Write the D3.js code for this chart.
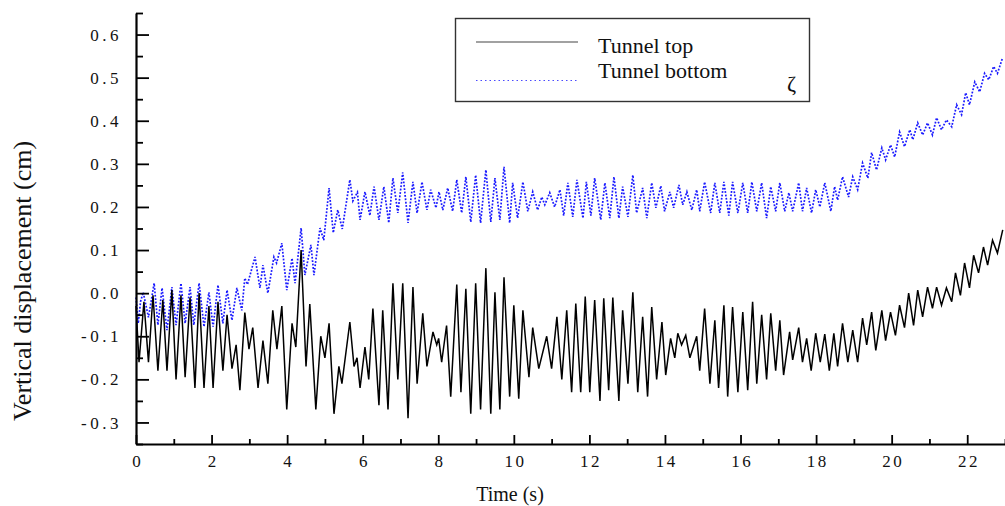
<!DOCTYPE html>
<html>
<head>
<meta charset="utf-8">
<script src="https://cdn.jsdelivr.net/npm/d3@7"></script>
<style>
  html, body { margin: 0; padding: 0; background: #fff; }
  svg { display: block; font-family: "Liberation Serif", "Times New Roman", serif; }
</style>
</head>
<body>
<svg id="chart" width="1005" height="506"></svg>
<script>
// Axis tick values
const timeTicks = [0, 2, 4, 6, 8, 10, 12, 14, 16, 18, 20, 22];
const timeMinorTicks = [1, 3, 5, 7, 9, 11, 13, 15, 17, 19, 21, 23];
const dispTicks = [-0.3, -0.2, -0.1, 0.0, 0.1, 0.2, 0.3, 0.4, 0.5, 0.6];
const dispMinorTicks = [-0.35, -0.25, -0.15, -0.05, 0.05, 0.15, 0.25, 0.35, 0.45, 0.55, 0.65];

const seriesNames = ["Tunnel top", "Tunnel bottom"];

// Vertical displacement of the tunnel top, [time (s), displacement (cm)]
const tunnelTop = [
  [0.00,-0.03],[0.08,-0.16],[0.21,-0.02],[0.33,-0.16],[0.45,-0.005],[0.58,-0.18],[0.71,-0.016],[0.82,-0.18],
  [0.95,0.007],[1.06,-0.20],[1.19,-0.005],[1.30,-0.195],[1.43,-0.01],[1.56,-0.22],[1.67,0.0],[1.80,-0.22],
  [1.93,-0.03],[2.04,-0.22],[2.17,-0.02],[2.30,-0.18],[2.41,-0.05],[2.54,-0.175],[2.65,-0.12],[2.75,-0.225],
  [2.88,-0.045],[2.99,-0.13],[3.09,-0.08],[3.23,-0.22],[3.36,-0.11],[3.49,-0.21],[3.62,-0.04],[3.73,-0.13],
  [3.86,-0.03],[3.99,-0.27],[4.13,-0.07],[4.23,-0.125],[4.37,0.10],[4.50,-0.17],[4.60,-0.025],[4.76,-0.27],
  [4.89,-0.10],[5.00,-0.15],[5.11,-0.07],[5.24,-0.28],[5.37,-0.17],[5.45,-0.21],[5.66,-0.067],[5.77,-0.17],
  [5.85,-0.15],[5.93,-0.22],[6.06,-0.125],[6.16,-0.20],[6.27,-0.036],[6.43,-0.26],[6.53,-0.04],[6.67,-0.27],
  [6.80,0.023],[6.93,-0.20],[7.06,0.023],[7.20,-0.29],[7.33,0.014],[7.44,-0.21],[7.59,-0.047],[7.70,-0.17],
  [7.86,-0.09],[7.96,-0.12],[8.01,-0.105],[8.09,-0.16],[8.22,-0.075],[8.33,-0.24],[8.49,0.02],[8.60,-0.23],
  [8.73,0.01],[8.86,-0.28],[8.99,0.023],[9.12,-0.27],[9.26,0.058],[9.39,-0.28],[9.50,0.002],[9.63,-0.27],
  [9.74,0.037],[9.89,-0.24],[10.00,-0.028],[10.13,-0.245],[10.24,-0.04],[10.40,-0.195],[10.50,-0.08],[10.66,-0.175],
  [10.87,-0.10],[11.00,-0.175],[11.14,-0.055],[11.27,-0.20],[11.40,-0.04],[11.53,-0.23],[11.64,-0.024],[11.77,-0.23],
  [11.89,-0.008],[12.01,-0.23],[12.14,-0.016],[12.28,-0.25],[12.38,-0.012],[12.51,-0.225],[12.62,-0.01],[12.78,-0.25],
  [12.88,-0.04],[13.02,-0.21],[13.15,0.002],[13.28,-0.23],[13.41,-0.055],[13.54,-0.24],[13.65,-0.032],[13.78,-0.20],
  [13.92,-0.067],[14.02,-0.19],[14.15,-0.105],[14.26,-0.15],[14.34,-0.093],[14.44,-0.12],[14.55,-0.098],[14.66,-0.15],
  [14.84,-0.10],[14.92,-0.18],[15.05,-0.036],[15.19,-0.21],[15.32,-0.063],[15.42,-0.22],[15.56,-0.028],[15.66,-0.24],
  [15.79,-0.032],[15.93,-0.23],[16.06,-0.044],[16.19,-0.225],[16.32,-0.02],[16.43,-0.21],[16.56,-0.05],[16.69,-0.20],
  [16.80,-0.047],[16.93,-0.18],[17.04,-0.063],[17.14,-0.19],[17.30,-0.09],[17.38,-0.155],[17.54,-0.08],[17.64,-0.16],
  [17.75,-0.105],[17.87,-0.18],[17.99,-0.093],[18.11,-0.16],[18.23,-0.095],[18.35,-0.18],[18.47,-0.093],[18.57,-0.17],
  [18.70,-0.07],[18.84,-0.16],[18.97,-0.086],[19.10,-0.16],[19.23,-0.058],[19.34,-0.12],[19.47,-0.044],[19.58,-0.133],
  [19.74,-0.04],[19.84,-0.11],[19.97,-0.044],[20.10,-0.098],[20.21,-0.028],[20.34,-0.08],[20.45,0.0],[20.58,-0.075],
  [20.69,0.007],[20.82,-0.055],[20.95,0.014],[21.08,-0.035],[21.19,0.014],[21.32,-0.028],[21.45,0.012],[21.59,-0.02],
  [21.69,0.047],[21.82,-0.005],[21.93,0.07],[22.06,0.012],[22.17,0.088],[22.30,0.047],[22.43,0.107],[22.54,0.065],
  [22.67,0.123],[22.80,0.093],[22.94,0.147]
];

// Vertical displacement of the tunnel bottom, [time (s), displacement (cm)]
const tunnelBottom = [
  [0.00,-0.01],[0.06,-0.07],[0.12,-0.02],[0.19,0.002],[0.33,-0.056],[0.48,0.023],[0.58,-0.074],[0.69,0.012],
  [0.82,-0.086],[0.95,0.014],[1.06,-0.074],[1.19,0.023],[1.30,-0.07],[1.43,0.014],[1.53,-0.074],[1.67,0.023],
  [1.80,-0.078],[1.93,0.002],[2.04,-0.078],[2.17,0.019],[2.30,-0.07],[2.41,0.007],[2.54,-0.063],[2.67,0.012],
  [2.80,-0.04],[2.88,0.035],[2.95,0.02],[3.15,0.084],[3.28,0.012],[3.36,0.065],[3.49,0.0],[3.65,0.084],
  [3.72,0.07],[3.86,0.116],[3.99,0.007],[4.13,0.081],[4.21,0.023],[4.37,0.151],[4.47,0.042],[4.63,0.112],
  [4.71,0.042],[4.87,0.151],[4.97,0.123],[5.11,0.244],[5.22,0.14],[5.34,0.193],[5.46,0.149],[5.66,0.263],
  [5.74,0.214],[5.86,0.234],[5.93,0.17],[6.06,0.235],[6.19,0.18],[6.30,0.247],[6.43,0.17],[6.56,0.247],
  [6.69,0.163],[6.80,0.267],[6.93,0.186],[7.06,0.28],[7.20,0.163],[7.33,0.258],[7.44,0.186],[7.57,0.258],
  [7.70,0.193],[7.80,0.24],[7.94,0.198],[8.02,0.235],[8.12,0.193],[8.25,0.244],[8.38,0.19],[8.49,0.263],
  [8.62,0.186],[8.73,0.27],[8.86,0.165],[8.99,0.274],[9.12,0.163],[9.26,0.286],[9.39,0.165],[9.50,0.267],
  [9.63,0.17],[9.74,0.293],[9.89,0.163],[9.97,0.256],[10.10,0.174],[10.24,0.258],[10.37,0.19],[10.50,0.235],
  [10.63,0.193],[10.74,0.223],[10.82,0.205],[10.95,0.233],[11.08,0.20],[11.22,0.24],[11.32,0.18],[11.43,0.256],
  [11.56,0.177],[11.67,0.263],[11.83,0.174],[11.92,0.258],[12.04,0.18],[12.14,0.267],[12.30,0.17],[12.41,0.256],
  [12.54,0.174],[12.65,0.27],[12.78,0.174],[12.88,0.247],[13.02,0.177],[13.15,0.274],[13.25,0.186],[13.41,0.244],
  [13.52,0.174],[13.65,0.256],[13.76,0.198],[13.89,0.249],[13.99,0.19],[14.13,0.235],[14.23,0.198],[14.37,0.251],
  [14.47,0.205],[14.58,0.235],[14.71,0.193],[14.84,0.24],[14.92,0.19],[15.05,0.258],[15.21,0.186],[15.32,0.256],
  [15.45,0.186],[15.56,0.258],[15.69,0.18],[15.79,0.258],[15.93,0.186],[16.06,0.256],[16.19,0.186],[16.30,0.258],
  [16.43,0.19],[16.56,0.256],[16.69,0.174],[16.80,0.247],[16.93,0.19],[17.04,0.256],[17.17,0.19],[17.28,0.233],
  [17.38,0.19],[17.54,0.256],[17.64,0.19],[17.75,0.244],[17.88,0.186],[17.99,0.24],[18.10,0.20],[18.23,0.256],
  [18.39,0.19],[18.49,0.247],[18.57,0.216],[18.70,0.27],[18.86,0.223],[18.97,0.27],[19.10,0.24],[19.23,0.302],
  [19.37,0.267],[19.47,0.326],[19.60,0.286],[19.74,0.337],[19.84,0.309],[19.97,0.344],[20.08,0.316],[20.21,0.374],
  [20.34,0.34],[20.48,0.379],[20.56,0.356],[20.69,0.395],[20.82,0.367],[20.95,0.395],[21.08,0.367],[21.19,0.407],
  [21.32,0.379],[21.45,0.402],[21.59,0.386],[21.72,0.437],[21.85,0.414],[21.96,0.465],[22.06,0.437],[22.20,0.49],
  [22.33,0.467],[22.46,0.51],[22.57,0.495],[22.70,0.526],[22.80,0.51],[22.94,0.547]
];

const svg = d3.select("#chart");
svg.append("rect").attr("width", 1005).attr("height", 506).attr("fill", "#fff");

const x = d3.scaleLinear().domain([0, 23]).range([136, 1005]);
const y = d3.scaleLinear().domain([-0.35, 0.65]).range([444, 13]);

const line = d3.line().x(d => x(d[0])).y(d => y(d[1]));

// Data curves
svg.append("path")
  .datum(tunnelBottom)
  .attr("d", line)
  .attr("fill", "none")
  .attr("stroke", "#1a1aff")
  .attr("stroke-width", 1.7)
  .attr("stroke-dasharray", "1.8 1.6");

svg.append("path")
  .datum(tunnelTop)
  .attr("d", line)
  .attr("fill", "none")
  .attr("stroke", "#000")
  .attr("stroke-width", 1.5)
  .attr("stroke-linejoin", "miter");

// Tick labels use a plain hyphen for negative values
const fmtDisp = d => d3.format(".1f")(d).replace("\u2212", "-");

// Y axis (ticks point into the plot)
const yAxis = svg.append("g").attr("transform", "translate(136,0)")
  .call(d3.axisLeft(y).tickValues(dispTicks).tickSizeInner(-13).tickSizeOuter(0)
    .tickPadding(14).tickFormat(fmtDisp));
svg.append("g").attr("transform", "translate(136,0)")
  .call(d3.axisLeft(y).tickValues(dispMinorTicks).tickSizeInner(-7).tickSizeOuter(0).tickFormat(""))
  .call(g => g.select(".domain").remove());

// X axis
const xAxis = svg.append("g").attr("transform", "translate(0,444)")
  .call(d3.axisBottom(x).tickValues(timeTicks).tickSizeInner(-9).tickSizeOuter(0)
    .tickPadding(11).tickFormat(d3.format("d")));
svg.append("g").attr("transform", "translate(0,444)")
  .call(d3.axisBottom(x).tickValues(timeMinorTicks).tickSizeInner(-5).tickSizeOuter(0).tickFormat(""))
  .call(g => g.select(".domain").remove());

svg.selectAll(".domain").attr("stroke", "#000").attr("stroke-width", 2.2);
svg.selectAll(".tick line").attr("stroke", "#000").attr("stroke-width", 1.8);
svg.selectAll(".tick text")
  .attr("fill", "#111")
  .style("font-family", "'Liberation Serif', 'Times New Roman', serif")
  .style("font-size", "17px");
yAxis.selectAll(".tick text").attr("dy", "0.33em").style("letter-spacing", "3.5px");
xAxis.selectAll(".tick text").attr("dx", "1.2px").style("letter-spacing", "2.5px");

// Axis titles
svg.append("text")
  .attr("transform", "translate(31,281) rotate(-90)")
  .attr("text-anchor", "middle")
  .style("font-size", "26px")
  .attr("fill", "#111")
  .text("Vertical displacement (cm)");

svg.append("text")
  .attr("x", 510).attr("y", 501)
  .attr("text-anchor", "middle")
  .style("font-size", "20px")
  .attr("fill", "#111")
  .text("Time (s)");

// Legend
const legend = svg.append("g");
legend.append("rect")
  .attr("x", 455.5).attr("y", 18.5).attr("width", 354).attr("height", 83)
  .attr("fill", "#fff").attr("stroke", "#333").attr("stroke-width", 1.4);
legend.append("line")
  .attr("x1", 476).attr("x2", 578).attr("y1", 42).attr("y2", 42)
  .attr("stroke", "#444").attr("stroke-width", 1.2);
legend.append("line")
  .attr("x1", 476).attr("x2", 578).attr("y1", 80.5).attr("y2", 80.5)
  .attr("stroke", "#4a4aff").attr("stroke-width", 1.2).attr("stroke-dasharray", "1.5 3");
legend.selectAll("text.name").data(seriesNames).join("text")
  .attr("class", "name")
  .attr("x", 598).attr("y", (d, i) => 53 + i * 25)
  .style("font-size", "22px")
  .attr("fill", "#111")
  .text(d => d);
legend.append("text")
  .attr("x", 787).attr("y", 91)
  .style("font-size", "22px")
  .attr("fill", "#111")
  .text("ζ");
</script>
</body>
</html>
